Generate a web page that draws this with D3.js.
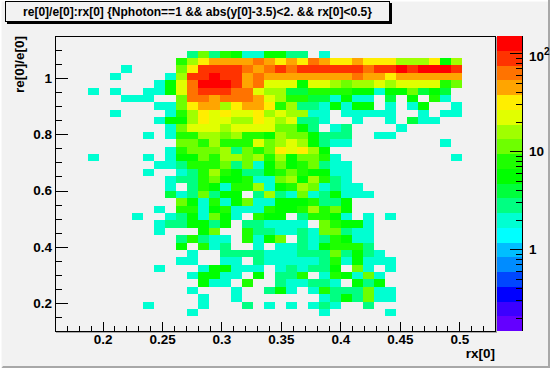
<!DOCTYPE html>
<html>
<head>
<meta charset="utf-8">
<script src="https://cdn.jsdelivr.net/npm/d3@7"></script>
<style>
  html, body { margin: 0; padding: 0; background: #f2f2f2; }
  svg { display: block; }
  text { font-family: "Liberation Sans", Arial, sans-serif; font-weight: bold; fill: #000; }
</style>
</head>
<body>
<div class="chart"></div>
<script>
const titleText = "re[0]/e[0]:rx[0] {Nphoton==1 && abs(y[0]-3.5)<2. && rx[0]<0.5}";
const xTitle = "rx[0]";
const yTitle = "re[0]/e[0]";

const xTicks = [0.2, 0.25, 0.3, 0.35, 0.4, 0.45, 0.5];
const xMinorTicks = d3.range(17, 53).map(d => d / 100);
const yTicks = [0.2, 0.4, 0.6, 0.8, 1];
const yMinorTicks = d3.range(3, 24).map(d => d * 0.05);
const zTicks = [1, 10, 100];
const zMinorTicks = [0.2, 0.3, 0.4, 0.5, 0.6, 0.7, 0.8, 0.9, 2, 3, 4, 5, 6, 7, 8, 9, 20, 30, 40, 50, 60, 70, 80, 90];

// 20 contour bands, bottom to top
const palette = ["#6400ff", "#3c00ff", "#0000ff", "#0046ff", "#008cff", "#00beff", "#00ffff", "#00ffd2",
  "#00ff82", "#00ff3c", "#00ff00", "#1eff00", "#6eff00", "#a0ff00", "#e1ff00", "#ffee00",
  "#ffa500", "#ff7300", "#ff3300", "#ff0000"];

const rowStart = [0, 0, 12, 11, 6, 5, 9, 3, 6, 9, 5, 9, 10, 8, 11, 10, 3, 9, 8, 10, 10, 10, 11, 9, 7, 9, 9, 11, 11, 12, 11, 9, 12, 13, 12, 13, 8, 12, 0, 0];
const rowCounts = [
  [],
  [],
  [3,11,3,8,5,2,2,5,5,3,3,0,2],
  [8,16,31,44,44,44,44,62,44,31,44,31,62,44,31,31,44,31,31,31,16,16,16,31,5,16],
  [2,0,0,0,0,11,31,88,88,88,88,62,44,62,88,62,88,88,88,88,88,88,62,88,88,125,88,125,125,125,88],
  [2,0,0,0,0,2,16,88,88,125,88,88,44,62,44,44,44,44,44,44,44,44,62,44,44,31,44,44,44,44,44,44],
  [2,5,22,62,125,125,125,88,44,62,22,22,22,5,22,22,16,11,16,16,22,16,22,22,22,22,8,11],
  [2,0,2,0,0,2,2,5,22,62,88,88,88,62,62,22,16,16,4,4,8,8,8,8,5,5,2,5,5,11,4,5,4],
  [2,2,2,0,0,11,62,62,44,62,62,62,44,22,16,8,8,4,4,2,5,2,2,0,4,0,5,0,8,2],
  [2,2,11,31,44,44,16,31,44,44,31,8,16,3,3,2,5,2,5,5,0,2,0,2,5,0,0,2],
  [2,0,0,0,0,2,8,16,31,22,31,22,22,31,16,22,16,16,2,2,0,2,2,2,2,2,0,0,2,0,2,2],
  [2,5,5,16,31,22,22,16,16,31,22,16,22,3,3,2,0,0,2,0,0,2,0,4,2,2],
  [2,11,22,22,22,16,22,22,22,22,11,11,5,3,0,2,3,0,0,0,0,2],
  [2,0,2,8,8,16,16,11,16,8,8,5,16,11,11,5,3,3,3,0,0,2,2],
  [11,11,8,16,8,8,8,22,11,16,22,16,5,3,2,2,0,0,0,0,0,0,0,0,2],
  [2,8,11,11,11,16,3,11,8,11,31,22,31,16,5],
  [2,0,0,0,0,2,0,2,5,5,11,8,16,16,11,16,8,16,5,11,11,8,2,0,0,0,0,0,0,0,0,0,0,2],
  [2,2,3,8,8,8,11,3,11,2,5,11,5,8,11,3,2,2],
  [2,0,0,2,3,8,16,8,5,3,3,5,8,11,8,5,5,2,2],
  [2,3,3,8,11,5,5,8,2,2,11,16,5,16,8,3,2],
  [2,0,3,8,5,2,8,8,16,2,5,8,16,11,2,3,2,2],
  [4,2,3,11,3,5,5,0,3,16,3,2,11,2,3,5,2,2,2],
  [11,5,2,8,2,5,11,2,2,5,5,5,8,3,3,5],
  [2,0,8,8,2,5,8,2,2,2,8,5,5,8,16,8,11,5],
  [2,0,0,2,3,5,2,11,5,2,0,8,5,5,0,3,8,8,5,2,0,2,0,2],
  [2,3,3,5,5,3,5,0,3,3,2,2,2,2,0,11,8,5,5,2],
  [2,0,0,0,5,11,0,0,8,3,3,2,2,3,2,11,11,3,2,2],
  [3,8,3,2,2,0,8,2,5,11,0,3,2,3,8,5,2,2],
  [5,0,8,2,3,0,0,2,0,2,2,3,2,5,8,8,8,3],
  [2,0,0,3,3,3,3,2,2,2,3,3,3,11,3,5,3,2],
  [2,2,0,0,2,2,0,3,2,2,2,2,2,3,8,2,5,2,2,2],
  [2,0,0,0,2,5,5,2,2,2,0,2,3,2,3,3,5,0,11,2,0,2],
  [2,5,5,2,2,0,5,0,3,3,8,0,2,8,5,2,11,2],
  [5,2,2,0,8,0,0,3,2,2,3,3,2,0,5,3,5],
  [2,0,0,0,2,0,0,3,5,2,0,2,8,3,3,3,11,2,2],
  [2,0,0,2,0,0,0,0,0,0,0,2,3,5,3,11,2,2],
  [2,0,0,0,0,2,0,0,0,3,0,2,0,2,0,2,3,2,0,0,3],
  [2,0,0,0,0,0,0,0,0,0,0,0,2,0,0,0,0,0,2],
  [],
  []
];

const width = 550, height = 368;
const nBins = 40;
const xRange = [0.16, 0.53], yRange = [0.1, 1.15], zRange = [0.146, 150];

const svg = d3.select(".chart").append("svg")
  .attr("width", width)
  .attr("height", height);

// canvas bevel
svg.append("rect").attr("width", width).attr("height", height).attr("fill", "#f2f2f2");
svg.append("path").attr("d", "M0 0H550V1.5H1.5V368H0Z").attr("fill", "#fff");
svg.append("path").attr("d", "M550 0V368H1.5L3 366H548V0Z").attr("fill", "#a8a8a8");

var x = d3.scaleLinear().domain(xRange).range([55, 495]);
var y = d3.scaleLinear().domain(yRange).range([331, 36]);
var z = d3.scaleLog().domain(zRange).range([331, 36]);
var color = d3.scaleQuantize().domain(zRange.map(Math.log10)).range(palette);

var xBin = (xRange[1] - xRange[0]) / nBins;
var yBin = (yRange[1] - yRange[0]) / nBins;

// flatten to one record per filled cell
var cells = [];
rowCounts.forEach((row, r) => {
  row.forEach((v, i) => {
    if (v > 0) cells.push({col: rowStart[r] + i, row: r, v: v});
  });
});

svg.append("g").selectAll("rect")
  .data(cells)
  .enter()
  .append("rect")
  .attr("x", d => Math.round(x(xRange[0] + d.col * xBin)))
  .attr("width", d => Math.round(x(xRange[0] + (d.col + 1) * xBin)) - Math.round(x(xRange[0] + d.col * xBin)))
  .attr("y", d => Math.round(y(yRange[1] - d.row * yBin)))
  .attr("height", d => Math.round(y(yRange[1] - (d.row + 1) * yBin)) - Math.round(y(yRange[1] - d.row * yBin)))
  .attr("fill", d => color(Math.log10(d.v)))
  .attr("shape-rendering", "crispEdges");

// frame
svg.append("rect")
  .attr("x", 55.5).attr("y", 36.5)
  .attr("width", 440).attr("height", 295)
  .attr("fill", "none").attr("stroke", "#000");
svg.append("path").attr("d", "M56 332.5H497M496.5 37V333").attr("stroke", "#a8a8a8").attr("fill", "none");

function styleAxis(g) {
  g.select(".domain").remove();
  g.selectAll("line").attr("stroke", "#000").attr("shape-rendering", "crispEdges");
}

// x axis
svg.append("g").attr("transform", "translate(0,331)")
  .call(d3.axisBottom(x).tickValues(xMinorTicks).tickSize(-5).tickFormat(""))
  .call(styleAxis);
svg.append("g").attr("transform", "translate(0,331)")
  .call(d3.axisBottom(x).tickValues(xTicks).tickSize(-9).tickPadding(3.5).tickFormat(d3.format("~g")))
  .call(styleAxis)
  .selectAll("text").attr("font-size", 13.5).attr("font-family", null);

// y axis
svg.append("g").attr("transform", "translate(55,0)")
  .call(d3.axisLeft(y).tickValues(yMinorTicks).tickSize(-7).tickFormat(""))
  .call(styleAxis);
svg.append("g").attr("transform", "translate(55,0)")
  .call(d3.axisLeft(y).tickValues(yTicks).tickSize(-13).tickPadding(3).tickFormat(d3.format("~g")))
  .call(styleAxis)
  .selectAll("text").attr("font-size", 13.5).attr("font-family", null);

// colour bar
var zEdges = d3.range(palette.length + 1).map(i => Math.pow(10, z.domain().map(Math.log10).reduce((a, b) => a + (b - a) * i / palette.length)));
svg.append("g").selectAll("rect")
  .data(palette)
  .enter()
  .append("rect")
  .attr("x", 497)
  .attr("width", 26)
  .attr("y", (d, i) => z(zEdges[i + 1]))
  .attr("height", (d, i) => z(zEdges[i]) - z(zEdges[i + 1]))
  .attr("fill", d => d)
  .attr("shape-rendering", "crispEdges");

svg.append("line")
  .attr("x1", 522.5).attr("x2", 522.5).attr("y1", 36).attr("y2", 331)
  .attr("stroke", "#000");
svg.append("g").attr("transform", "translate(523,0)")
  .call(d3.axisRight(z).tickValues(zMinorTicks).tickSize(-7.5).tickFormat(""))
  .call(styleAxis);
var zAxis = svg.append("g").attr("transform", "translate(523,0)")
  .call(d3.axisRight(z).tickValues(zTicks).tickSize(-13).tickPadding(6).tickFormat(d => d == 100 ? "10" : d))
  .call(styleAxis);
zAxis.selectAll("text").attr("font-size", 13.5).attr("font-family", null);
zAxis.selectAll("text").filter(d => d == 100)
  .attr("transform", "translate(0,3)")
  .append("tspan").attr("dy", "-6").attr("font-size", 10).text("2");

// titles
svg.append("text")
  .attr("x", 495).attr("y", 358)
  .attr("text-anchor", "end").attr("font-size", 13.5)
  .text(xTitle);
svg.append("text")
  .attr("transform", "translate(24,36) rotate(-90)")
  .attr("text-anchor", "end").attr("font-size", 13.5)
  .text(yTitle);

// title box with shadow
svg.append("rect").attr("x", 7).attr("y", 3).attr("width", 385).attr("height", 21).attr("fill", "#000");
svg.append("rect").attr("x", 5.5).attr("y", 1.5).attr("width", 384).attr("height", 20)
  .attr("fill", "#f2f2f2").attr("stroke", "#000");
svg.append("text")
  .attr("x", 197.5).attr("y", 15.5)
  .attr("text-anchor", "middle").attr("font-size", 12)
  .text(titleText);
</script>
</body>
</html>
